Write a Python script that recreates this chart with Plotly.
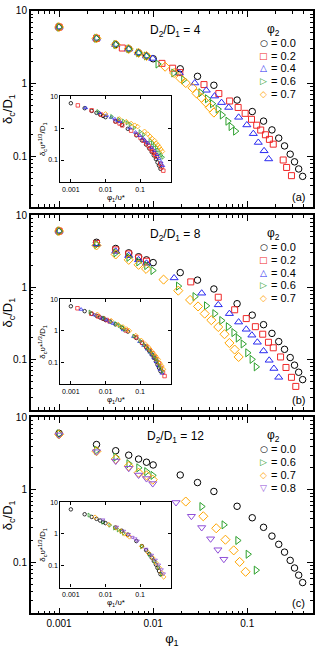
import numpy as np
import plotly.graph_objects as go

# ------------------------------------------------------------------ data
ratio_labels = ["4", "8", "12"]
panel_tags = ["(a)", "(b)", "(c)"]
phi2_ab = ["0.0", "0.2", "0.4", "0.6", "0.7"]
phi2_c = ["0.0", "0.6", "0.7", "0.8"]

# phi2 = 0.0 (independent of D2/D1, same in all panels)
phi1_00 = [0.001, 0.0025, 0.004, 0.0055, 0.007, 0.0085, 0.01, 0.0194, 0.0296, 0.0442,
           0.078, 0.113, 0.149, 0.183, 0.216, 0.249, 0.286, 0.318, 0.352, 0.388]
delta_00 = [6.0, 4.2, 3.45, 3.0, 2.65, 2.4, 2.2, 1.6, 1.26, 0.95,
            0.594, 0.413, 0.305, 0.231, 0.178, 0.139, 0.107, 0.084, 0.067, 0.053]

# panel (a) D2/D1 = 4
phi1_a_02 = [0.001, 0.0025, 0.0047, 0.0124, 0.0161, 0.0192, 0.0347, 0.0499, 0.065, 0.080,
             0.095, 0.111, 0.126, 0.139, 0.156, 0.172, 0.189, 0.241, 0.262, 0.295]
delta_a_02 = [6.0, 4.2, 3.09, 1.9, 1.63, 1.42, 0.97, 0.73, 0.577, 0.47,
              0.39, 0.323, 0.268, 0.23, 0.198, 0.171, 0.147, 0.089, 0.0703, 0.0542]
phi1_a_04 = [0.001, 0.0025, 0.004, 0.0055, 0.007, 0.0085, 0.0099, 0.0189, 0.0277, 0.0367,
             0.045, 0.0533, 0.0635, 0.081, 0.099, 0.116, 0.131, 0.151, 0.169]
delta_a_04 = [6.0, 4.2, 3.45, 3.0, 2.65, 2.4, 2.22, 1.40, 1.02, 0.81,
              0.674, 0.548, 0.47, 0.344, 0.27, 0.205, 0.155, 0.119, 0.092]
phi1_a_06 = [0.001, 0.0025, 0.004, 0.0055, 0.007, 0.0085, 0.0112, 0.0165, 0.021, 0.032,
             0.0376, 0.0425, 0.0488, 0.054, 0.062, 0.067, 0.0748]
delta_a_06 = [6.0, 4.2, 3.45, 3.0, 2.65, 2.4, 1.86, 1.40, 1.13, 0.75,
              0.62, 0.53, 0.446, 0.37, 0.304, 0.257, 0.222]
phi1_a_07 = [0.001, 0.0025, 0.004, 0.0055, 0.007, 0.0085, 0.0134, 0.0167, 0.0194, 0.0222,
             0.0262, 0.029, 0.0326, 0.0364, 0.040, 0.0442]
delta_a_07 = [6.0, 4.2, 3.45, 3.0, 2.65, 2.4, 1.71, 1.40, 1.19, 1.02,
              0.875, 0.73, 0.64, 0.548, 0.47, 0.40]

# panel (b) D2/D1 = 8
phi1_b_02 = [0.001, 0.0025, 0.004, 0.0055, 0.007, 0.0085, 0.0251, 0.0492, 0.0735, 0.0976,
             0.122, 0.146, 0.168, 0.189, 0.226, 0.258, 0.295, 0.328]
delta_b_02 = [6.0, 4.05, 3.3, 2.9, 2.55, 2.3, 1.19, 0.73, 0.49, 0.37,
              0.286, 0.225, 0.174, 0.146, 0.109, 0.078, 0.057, 0.0427]
phi1_b_04 = [0.001, 0.0025, 0.004, 0.0055, 0.007, 0.0085, 0.0167, 0.0328, 0.0492, 0.0646,
             0.081, 0.0976, 0.112, 0.128, 0.149, 0.171, 0.192, 0.216]
delta_b_04 = [6.0, 4.0, 3.15, 2.75, 2.4, 2.15, 1.35, 0.83, 0.573, 0.433,
              0.331, 0.263, 0.218, 0.174, 0.132, 0.098, 0.0755, 0.057]
phi1_b_06 = [0.001, 0.0025, 0.004, 0.0055, 0.007, 0.0085, 0.0099, 0.0185, 0.0277, 0.0367,
             0.045, 0.0533, 0.0626, 0.0718, 0.0798, 0.090, 0.1007, 0.112, 0.124]
delta_b_06 = [6.0, 3.9, 3.0, 2.6, 2.25, 2.0, 1.71, 1.04, 0.745, 0.556,
              0.433, 0.348, 0.286, 0.237, 0.199, 0.165, 0.1245, 0.101, 0.0796]
phi1_b_07 = [0.001, 0.0025, 0.004, 0.0055, 0.007, 0.0084, 0.0129, 0.0185, 0.0247, 0.030,
             0.0353, 0.0415, 0.0492, 0.0573, 0.0646, 0.0735, 0.081]
delta_b_07 = [6.0, 3.8, 2.85, 2.4, 2.05, 1.8, 1.28, 0.9, 0.67, 0.545,
              0.433, 0.352, 0.283, 0.225, 0.17, 0.138, 0.109]

# panel (c) D2/D1 = 12
phi1_c_06 = [0.001, 0.0025, 0.004, 0.0055, 0.007, 0.0085, 0.0099, 0.0328, 0.0564, 0.079,
             0.1017, 0.124]
delta_c_06 = [5.9, 3.5, 2.82, 2.29, 2.01, 1.78, 1.58, 0.59, 0.33, 0.201, 0.13, 0.0785]
phi1_c_07 = [0.001, 0.0025, 0.004, 0.0055, 0.007, 0.0085, 0.0099, 0.0222, 0.0341, 0.0468,
             0.0586, 0.0718, 0.083, 0.096]
delta_c_07 = [5.8, 3.4, 2.65, 2.12, 1.72, 1.58, 1.38, 0.69, 0.433, 0.296,
              0.206, 0.147, 0.102, 0.0745]
phi1_c_08 = [0.001, 0.0025, 0.004, 0.0055, 0.007, 0.0085, 0.0099, 0.0175, 0.0255, 0.0328,
             0.0408, 0.0488, 0.0564]
delta_c_08 = [5.7, 3.35, 2.49, 1.98, 1.6, 1.43, 1.22, 0.67, 0.433, 0.303,
              0.212, 0.15, 0.111]

# upsilon* used for the insets (one per phi2 value, per panel)
vstar_a = [1.0, 0.63, 0.375, 0.166, 0.10]
vstar_b = [1.0, 0.645, 0.507, 0.28, 0.172]
vstar_c = [1.0, 0.30, 0.20, 0.119]

xtick_vals = [0.001, 0.01, 0.1]
xtick_text = ["0.001", "0.01", "0.1"]
ytick_vals = [0.1, 1, 10]
ytick_text = ["0.1", "1", "10"]

panel_series = [
    (phi2_ab, [(phi1_00, delta_00), (phi1_a_02, delta_a_02), (phi1_a_04, delta_a_04),
               (phi1_a_06, delta_a_06), (phi1_a_07, delta_a_07)], vstar_a),
    (phi2_ab, [(phi1_00, delta_00), (phi1_b_02, delta_b_02), (phi1_b_04, delta_b_04),
               (phi1_b_06, delta_b_06), (phi1_b_07, delta_b_07)], vstar_b),
    (phi2_c, [(phi1_00, delta_00), (phi1_c_06, delta_c_06), (phi1_c_07, delta_c_07),
              (phi1_c_08, delta_c_08)], vstar_c),
]

# ------------------------------------------------------------------ style
FONT = "Liberation Sans, Arial, Helvetica, sans-serif"
STY = {
    "0.0": dict(color="#000000", symbol="circle-open", size=6.5),
    "0.2": dict(color="#f02828", symbol="square-open", size=6),
    "0.4": dict(color="#2a2af0", symbol="triangle-up-open", size=7),
    "0.6": dict(color="#2ca02c", symbol="triangle-right-open", size=7),
    "0.7": dict(color="#ffa500", symbol="diamond-open", size=7),
    "0.8": dict(color="#9050d8", symbol="triangle-down-open", size=7),
}
GLYPH = {"0.0": "○", "0.2": "□", "0.4": "△", "0.6": "▷", "0.7": "◇", "0.8": "▽"}

W, H = 315, 648
XL, XR = 28, 313
panels_px = [(5, 203), (211, 408), (415, 613)]
INX = (58, 170)
insets_px = [(91, 178), (296, 382), (501, 587)]


def px(x):
    return x / W


def py(y):
    return 1 - y / H


minor_x = [k * 10.0 ** e for e in range(-4, 0) for k in range(2, 10)]
minor_y = [k * 10.0 ** e for e in range(-2, 1) for k in range(2, 10)]

fig = go.Figure()
layout = {}
annotations = []

for i, (labels, series, vst) in enumerate(panel_series):
    mx, my = f"x{'' if i == 0 else i + 1}", f"y{'' if i == 0 else i + 1}"
    ix, iy = f"x{i + 4}", f"y{i + 4}"
    for lbl, (xs, ys), v in zip(labels, series, vst):
        s = STY[lbl]
        fig.add_trace(go.Scatter(
            x=xs, y=ys, mode="markers", name=f"φ2 = {lbl}", showlegend=False,
            xaxis=mx, yaxis=my,
            marker=dict(symbol=s["symbol"], size=s["size"], color=s["color"],
                        line=dict(width=1, color=s["color"]))))
        xi = [a / v for a in xs]
        yi = [b * v ** (1.0 / 3.0) for b in ys]
        fig.add_trace(go.Scatter(
            x=xi, y=yi, mode="markers", name=f"φ2 = {lbl} (scaled)", showlegend=False,
            xaxis=ix, yaxis=iy,
            marker=dict(symbol=s["symbol"], size=3.5, color=s["color"],
                        line=dict(width=0.8, color=s["color"]))))

    top, bot = panels_px[i]
    common = dict(type="log", showline=True, linecolor="black", linewidth=1.5,
                  mirror="ticks", ticks="inside", tickcolor="black", tickwidth=1,
                  showgrid=False, zeroline=False,
                  tickfont=dict(family=FONT, size=10, color="black"))
    xa = dict(
        common, range=[np.log10(0.0005), np.log10(0.5)], domain=[px(XL), px(XR)],
        anchor=my, ticklen=6, tickmode="array", tickvals=xtick_vals, ticktext=xtick_text,
        showticklabels=(i == 2),
        minor=dict(tickmode="array", tickvals=minor_x, ticks="inside", ticklen=3,
                   tickcolor="black", tickwidth=1, showgrid=False))
    if i == 2:
        xa["title"] = dict(text="φ<sub>1</sub>", standoff=6,
                           font=dict(family=FONT, size=13, color="black"))
    layout[f"xaxis{'' if i == 0 else i + 1}"] = xa
    layout[f"yaxis{'' if i == 0 else i + 1}"] = dict(
        common, range=[np.log10(0.02), 1], domain=[py(bot), py(top)],
        anchor=mx, ticklen=6, tickmode="array", tickvals=ytick_vals, ticktext=ytick_text,
        minor=dict(tickmode="array", tickvals=minor_y, ticks="inside", ticklen=3,
                   tickcolor="black", tickwidth=1, showgrid=False),
        title=dict(text="δ<sub>c</sub>/D<sub>1</sub>", standoff=4,
                   font=dict(family=FONT, size=13, color="black")))

    itop, ibot = insets_px[i]
    icommon = dict(type="log", showline=True, linecolor="black", linewidth=1.2,
                   mirror="ticks", ticks="inside", ticklen=3, tickcolor="black",
                   tickwidth=0.8, showgrid=False, zeroline=False,
                   tickfont=dict(family=FONT, size=7, color="black"))
    layout[f"xaxis{i + 4}"] = dict(
        icommon, range=[np.log10(0.0005), np.log10(0.8)], domain=[px(INX[0]), px(INX[1])],
        anchor=iy, tickmode="array", tickvals=xtick_vals, ticktext=xtick_text,
        title=dict(text="φ<sub>1</sub>/υ*", standoff=1,
                   font=dict(family=FONT, size=8, color="black")))
    layout[f"yaxis{i + 4}"] = dict(
        icommon, range=[np.log10(0.02), 1], domain=[py(ibot), py(itop)],
        anchor=ix, tickmode="array", tickvals=ytick_vals, ticktext=ytick_text,
        title=dict(text="δ<sub>c</sub>υ*<sup>1/3</sup>/D<sub>1</sub>", standoff=1,
                   font=dict(family=FONT, size=8, color="black")))

    # panel texts
    annotations.append(dict(text=f"D<sub>2</sub>/D<sub>1</sub> = {ratio_labels[i]}",
                            x=px(174), y=py(top + 20), xref="paper", yref="paper",
                            showarrow=False, xanchor="center", yanchor="middle",
                            font=dict(family=FONT, size=12, color="black")))
    annotations.append(dict(text=panel_tags[i], x=px(298), y=py(bot - 10),
                            xref="paper", yref="paper", showarrow=False,
                            xanchor="center", yanchor="middle",
                            font=dict(family=FONT, size=11, color="black")))
    # legend (symbol glyph + text)
    annotations.append(dict(text="φ<sub>2</sub>", x=px(273), y=py(top + 19),
                            xref="paper", yref="paper", showarrow=False,
                            xanchor="center", yanchor="middle",
                            font=dict(family=FONT, size=12, color="black")))
    for k, lbl in enumerate(labels):
        yy = top + 32 + 13 * k
        annotations.append(dict(text=GLYPH[lbl], x=px(263.5), y=py(yy),
                                xref="paper", yref="paper", showarrow=False,
                                xanchor="center", yanchor="middle",
                                font=dict(family="DejaVu Sans", size=9,
                                          color=STY[lbl]["color"])))
        annotations.append(dict(text=f"= {lbl}", x=px(268.5), y=py(yy),
                                xref="paper", yref="paper", showarrow=False,
                                xanchor="left", yanchor="middle",
                                font=dict(family=FONT, size=11, color="black")))

fig.update_layout(
    width=W, height=H, margin=dict(l=0, r=0, t=0, b=0),
    paper_bgcolor="white", plot_bgcolor="white", showlegend=False,
    font=dict(family=FONT, color="black"),
    annotations=annotations, **layout)

fig.write_html("out.html", config={"displayModeBar": False},
               post_script="document.body.style.margin='0';")
